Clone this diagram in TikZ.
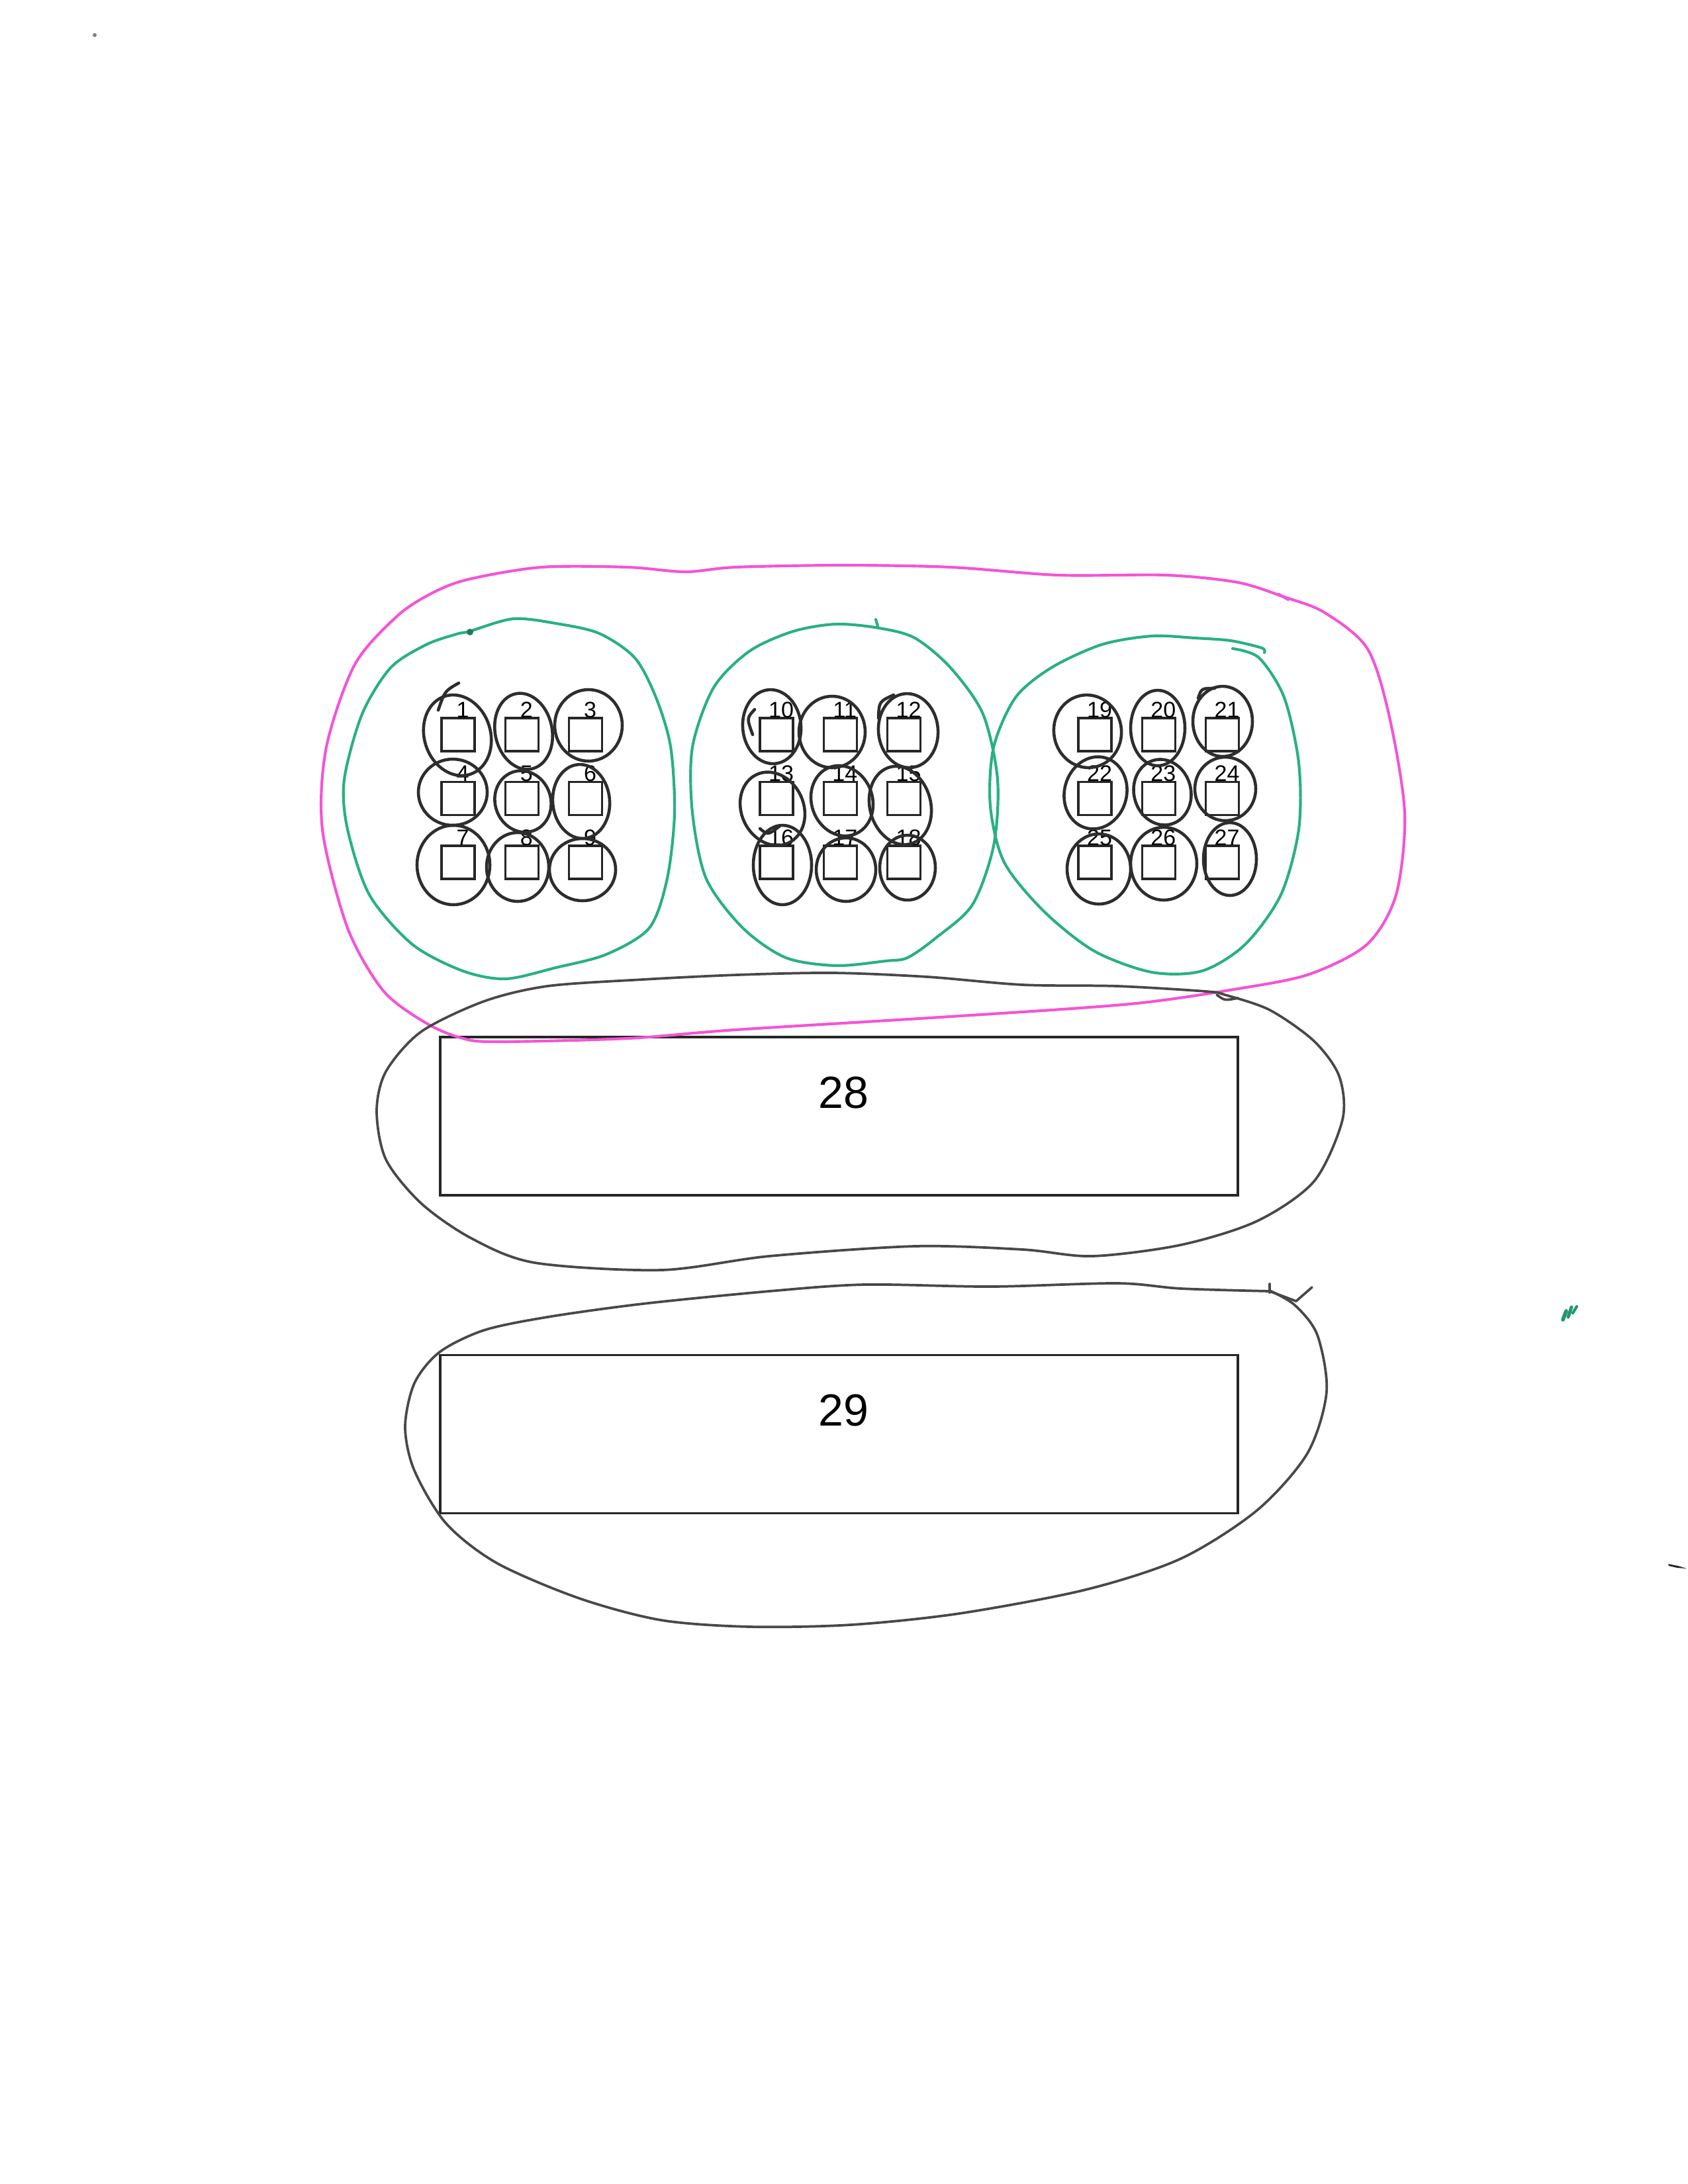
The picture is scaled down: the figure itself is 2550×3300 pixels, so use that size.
\documentclass[tikz,border=0pt]{standalone}
\usepackage{fontspec}
\setmainfont{Liberation Sans}
\newcommand\pxu{0.0084667cm}
\definecolor{greenpen}{RGB}{40,176,132}
\definecolor{pinkpen}{RGB}{244,84,214}
\definecolor{inkk}{RGB}{45,45,45}
\definecolor{inkg}{RGB}{72,72,72}
\tikzset{
  sq/.style={draw=black!85, line width=0.8pt, minimum size=50*\pxu, inner sep=0pt},
  numlab/.style={font=\fontsize{8.2}{9}\selectfont, inner sep=0pt, anchor=base},
  bigbox/.style={draw=black!85, line width=0.85pt, minimum width=1205*\pxu, minimum height=239*\pxu, inner sep=0pt},
  biglab/.style={font=\fontsize{16.4}{19}\selectfont, inner sep=0pt, anchor=base},
  handk/.style={draw=inkk, line width=1.1pt, line cap=round, line join=round},
  handgray/.style={draw=inkg, line width=0.9pt, line cap=round, line join=round},
  handg/.style={draw=greenpen, line width=1pt, line cap=round, line join=round},
  handp/.style={draw=pinkpen, line width=1pt, line cap=round, line join=round}
}
\begin{document}
\begin{tikzpicture}[x=0.0084667cm, y=-0.0084667cm]
\useasboundingbox (0,0) rectangle (2550,3300);
\fill[white] (0,0) rectangle (2550,3300);

% numbered squares and their labels
\foreach \g in {0,1,2}{\foreach \r in {0,1,2}{\foreach \c in {0,1,2}{
  \pgfmathtruncatemacro\n{\g*9+\r*3+\c+1}
  \pgfmathsetmacro\xx{692+481*\g+96.3*\c}
  \pgfmathsetmacro\yy{1110+96.5*\r}
  \node[sq] (s\n) at (\xx,\yy) {};
  \node[numlab] (n\n) at (\xx+7,\yy-26) {\n};
}}}

% big boxes
\node[bigbox] (b28) at (1267.5,1686.5) {};
\node[biglab] (t28) at (1274,1674) {28};
\node[bigbox] (b29) at (1267.5,2167) {};
\node[biglab] (t29) at (1274,2154) {29};

% hand-drawn loops round each square
\foreach \cx/\cy/\rx/\ry/\rt in {
  691/1111/50/62/18, 791/1105/43/58/12, 889/1096/51/54/0,
  684/1197/52/50/0, 790/1211/42/47/20, 878/1211/43/56/5,
  685/1307/55/60/0, 782/1310/47/52/0, 880/1314/50/47/0,
  1166/1098/44/56/5, 1257/1106/50/54/0, 1372/1104/45/56/5,
  1167/1222/47/57/25, 1272/1210/46/54/20, 1360/1217/46/60/15,
  1182/1307/44/60/0, 1278/1314/45/48/0, 1371/1311/42/49/0,
  1643/1105/51/55/10, 1749/1100/41/57/0, 1847/1090/45/53/0,
  1655/1198/47/55/-15, 1756/1197/43/50/15, 1851/1192/46/48/0,
  1660/1313/48/53/0, 1758/1305/50/55/0, 1858/1298/40/55/0}
  {\draw[handk, rotate around={\rt:(\cx,\cy)}] (\cx,\cy) ellipse [x radius=\rx, y radius=\ry];}
% pen tails
\draw[handk] (693,1032) .. controls (672,1044) .. (662,1073);
\draw[handk] (1140,1072) .. controls (1128,1085) .. (1137,1110);
\draw[handk] (1327,1085) .. controls (1328,1060) .. (1350,1050);
\draw[handk] (1148,1252) .. controls (1160,1262) .. (1178,1248);
\draw[handk] (1810,1055) .. controls (1815,1040) .. (1835,1040);

% green group loops
\draw[handg] plot[smooth cycle] coordinates {(709,954) (775,935) (840,942) (905,957) (959,994) (991,1054) (1013,1128) (1019,1228) (1008,1327) (981,1402) (916,1442) (840,1462) (764,1479) (699,1467) (623,1427) (558,1352) (525,1253) (520,1178) (547,1079) (590,1009) (644,974) (690,958)};
\fill[greenpen!70!black] (710,955) circle [radius=5];
\draw[handg] plot[smooth cycle] coordinates {(1328,949) (1263,943) (1198,954) (1132,984) (1078,1039) (1046,1129) (1046,1228) (1067,1328) (1122,1402) (1187,1447) (1263,1459) (1338,1452) (1371,1447) (1414,1417) (1469,1367) (1501,1278) (1507,1178) (1485,1079) (1436,1009) (1382,964)};
\draw[handg] (1326,946) -- (1323,936);
\draw[handg] plot[smooth] coordinates {(1910,986) (1906,979) (1859,968) (1805,964) (1740,961) (1664,974) (1588,1009) (1534,1054) (1501,1129) (1496,1218) (1517,1303) (1577,1377) (1653,1437) (1740,1469) (1816,1467) (1881,1427) (1935,1352) (1962,1253) (1962,1153) (1940,1054) (1902,994) (1862,980)};

% pink outer loop
\draw[handp] plot[smooth cycle] coordinates {(709,875) (818,857) (948,857) (1035,864) (1111,857) (1273,854) (1436,857) (1599,869) (1762,869) (1870,880) (1940,902) (2000,925) (2065,979) (2098,1079) (2122,1228) (2109,1352) (2065,1427) (1978,1472) (1870,1494) (1707,1517) (1436,1536) (1111,1556) (948,1569) (753,1574) (699,1569) (644,1546) (579,1497) (525,1402) (487,1253) (493,1129) (536,1004) (601,930) (655,895)};
\draw[handp] (1932,898) -- (1946,906);

% loop round box 28
\draw[handgray] plot[smooth cycle] coordinates {(1822,1498) (1688,1490) (1545,1488) (1401,1476) (1258,1470) (1114,1473) (971,1480) (827,1490) (731,1513) (636,1559) (583,1619) (569,1679) (583,1752) (636,1818) (712,1871) (808,1908) (999,1919) (1162,1898) (1382,1883) (1545,1888) (1650,1898) (1784,1881) (1899,1845) (1985,1785) (2028,1692) (2023,1626) (1985,1573) (1918,1526) (1850,1503)};
\draw[handgray] (1838,1503) .. controls (1850,1512) .. (1870,1508);

% loop round box 29
\draw[handgray] plot[smooth] coordinates {(1918,1951) (1784,1947) (1688,1939) (1497,1944) (1306,1941) (1162,1951) (971,1970) (827,1990) (731,2010) (664,2043) (626,2090) (612,2156) (626,2222) (674,2302) (751,2362) (875,2415) (999,2448) (1133,2458) (1286,2455) (1449,2438) (1640,2402) (1784,2355) (1899,2282) (1975,2196) (2004,2103) (1990,2017) (1956,1972) (1918,1950)};
\draw[handgray] (1918,1951) -- (1958,1966) -- (1982,1945);
\draw[handgray] (1918,1940) -- (1918,1953);

% stray marks of the scan
\draw[greenpen!85!black, line width=1.4pt, line cap=round] (2361,1994) -- (2366,1981);
\draw[greenpen!85!black, line width=1.2pt, line cap=round] (2369,1990) -- (2374,1975);
\draw[greenpen!85!black, line width=1pt, line cap=round] (2376,1984) -- (2382,1974);
\fill[black!85] (2520,2363) -- (2535,2366) -- (2548,2370) -- (2534,2369) -- (2521,2366) -- cycle;
\fill[black!50] (143,53) circle [radius=3];
\end{tikzpicture}
\end{document}
